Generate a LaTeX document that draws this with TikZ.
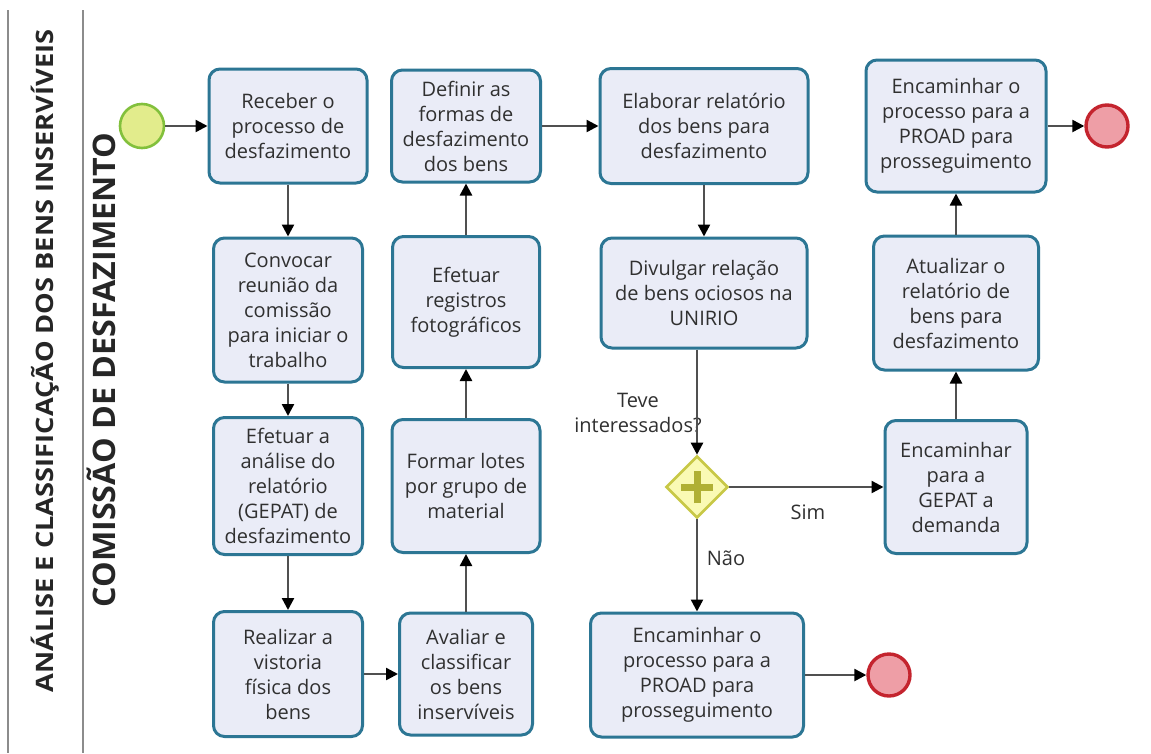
\documentclass[tikz,border=0pt]{standalone}
\usepackage{fontspec}
\usepackage{graphicx}
\setmainfont{Open Sans}
\usetikzlibrary{shapes.geometric,arrows.meta}
\definecolor{taskline}{RGB}{44,118,148}
\definecolor{taskfill}{RGB}{234,236,247}
\definecolor{textgray}{RGB}{48,48,48}
\definecolor{flowgray}{RGB}{80,80,80}
\definecolor{poolgray}{RGB}{140,140,140}
\definecolor{startfill}{RGB}{226,236,140}
\definecolor{startline}{RGB}{130,192,60}
\definecolor{endfill}{RGB}{238,158,166}
\definecolor{endline}{RGB}{196,36,46}
\definecolor{gatefill}{RGB}{250,250,180}
\definecolor{gateline}{RGB}{200,200,70}
\definecolor{gateplus}{RGB}{176,176,52}

\begin{document}
\begin{tikzpicture}[x=1pt, y=-1pt,
    task/.style={draw=taskline, fill=taskfill, line width=3pt, rounded corners=11pt,
      align=center, text=textgray, font=\fontsize{20}{25}\selectfont, inner sep=0pt},
    startev/.style={circle, draw=startline, fill=startfill, line width=2.6pt, minimum size=44pt},
    endev/.style={circle, draw=endline, fill=endfill, line width=3.4pt, minimum size=42pt},
    gate/.style={diamond, aspect=1, draw=gateline, fill=gatefill, line width=2.6pt, minimum size=62pt, inner sep=0pt},
    cross/.style={draw=gateplus, line width=7pt},
    flow/.style={draw=flowgray, line width=2.4pt, -{Triangle[length=12pt, width=12pt, color=black]}},
    lbl/.style={text=textgray, font=\fontsize{20}{25}\selectfont, align=center},
    title/.style={rotate=90, text=black!85, font=\bfseries}
  ]
  \useasboundingbox[fill=white] (0,0) rectangle (1151,753);

  % pool and lane
  \draw[poolgray, line width=2pt] (8,10) -- (8,753);
  \draw[poolgray, line width=2pt] (83,10) -- (83,753);
  \node[title, font=\bfseries\fontsize{24}{28}\selectfont] (pool) at (45,361)
    {\resizebox{663pt}{\height}{ANÁLISE E CLASSIFICAÇÃO DOS BENS INSERVÍVEIS}};
  \node[title, font=\bfseries\fontsize{31}{36}\selectfont] (lane) at (101,370)
    {\resizebox{475pt}{\height}{COMISSÃO DE DESFAZIMENTO}};

  % tasks
  \node[startev] (start) at (142,126) {};
  \node[task, minimum width=158, minimum height=114] (recv) at (288,126) {Receber o\\processo de\\desfazimento};
  \node[task, minimum width=149, minimum height=144] (conv) at (288,310) {Convocar\\reunião da\\comissão\\para iniciar o\\trabalho};
  \node[task, minimum width=149, minimum height=137] (anal) at (288,486) {Efetuar a\\análise do\\relatório\\(GEPAT) de\\desfazimento};
  \node[task, minimum width=149, minimum height=125] (vist) at (288,674) {Realizar a\\vistoria\\física dos\\bens};

  \node[task, minimum width=133, minimum height=122] (aval) at (466,674) {Avaliar e\\classificar\\os bens\\inservíveis};
  \node[task, minimum width=148, minimum height=133] (lote) at (466,486) {Formar lotes\\por grupo de\\material};
  \node[task, minimum width=147, minimum height=131] (foto) at (466,302) {Efetuar\\registros\\fotográficos};
  \node[task, minimum width=149, minimum height=112] (forma) at (466,126) {Definir as\\formas de\\desfazimento\\dos bens};

  \node[task, minimum width=208, minimum height=115] (elab) at (704,126) {Elaborar relatório\\dos bens para\\desfazimento};
  \node[task, minimum width=206, minimum height=110] (divul) at (704,293) {Divulgar relação\\de bens ociosos na\\UNIRIO};
  \node[gate] (gw) at (697,487) {};
  \draw[cross] ([xshift=-16pt]gw.center) -- ([xshift=16pt]gw.center);
  \draw[cross] ([yshift=-16pt]gw.center) -- ([yshift=16pt]gw.center);
  \node[task, minimum width=213, minimum height=124] (proadB) at (697,675) {Encaminhar o\\processo para a\\PROAD para\\prosseguimento};
  \node[endev] (endB) at (889,675) {};

  \node[task, minimum width=142, minimum height=133] (gepat) at (956,487) {Encaminhar\\para a\\GEPAT a\\demanda};
  \node[task, minimum width=165, minimum height=134] (atual) at (956,303) {Atualizar o\\relatório de\\bens para\\desfazimento};
  \node[task, minimum width=180, minimum height=132] (proadA) at (956,126) {Encaminhar o\\processo para a\\PROAD para\\prosseguimento};
  \node[endev] (endA) at (1107,126) {};

  % labels
  \node[lbl] (ask) at (638,413) {Teve\\interessados?};
  \node[lbl] (yes) at (808,512) {Sim};
  \node[lbl] (no) at (726,558) {Não};

  % sequence flows
  \draw[flow] (start) -- (recv);
  \draw[flow] (recv) -- (conv);
  \draw[flow] (conv) -- (anal);
  \draw[flow] (anal) -- (vist);
  \draw[flow] (vist) -- (aval);
  \draw[flow] (aval) -- (lote);
  \draw[flow] (lote) -- (foto);
  \draw[flow] (foto) -- (forma);
  \draw[flow] (forma) -- (elab);
  \draw[flow] (elab) -- (divul);
  \draw[flow] (gw |- divul.south) -- (gw.north);
  \draw[flow] (gw) -- (gepat);
  \draw[flow] (gw) -- (proadB);
  \draw[flow] (proadB) -- (endB);
  \draw[flow] (gepat) -- (atual);
  \draw[flow] (atual) -- (proadA);
  \draw[flow] (proadA) -- (endA);
\end{tikzpicture}
\end{document}
